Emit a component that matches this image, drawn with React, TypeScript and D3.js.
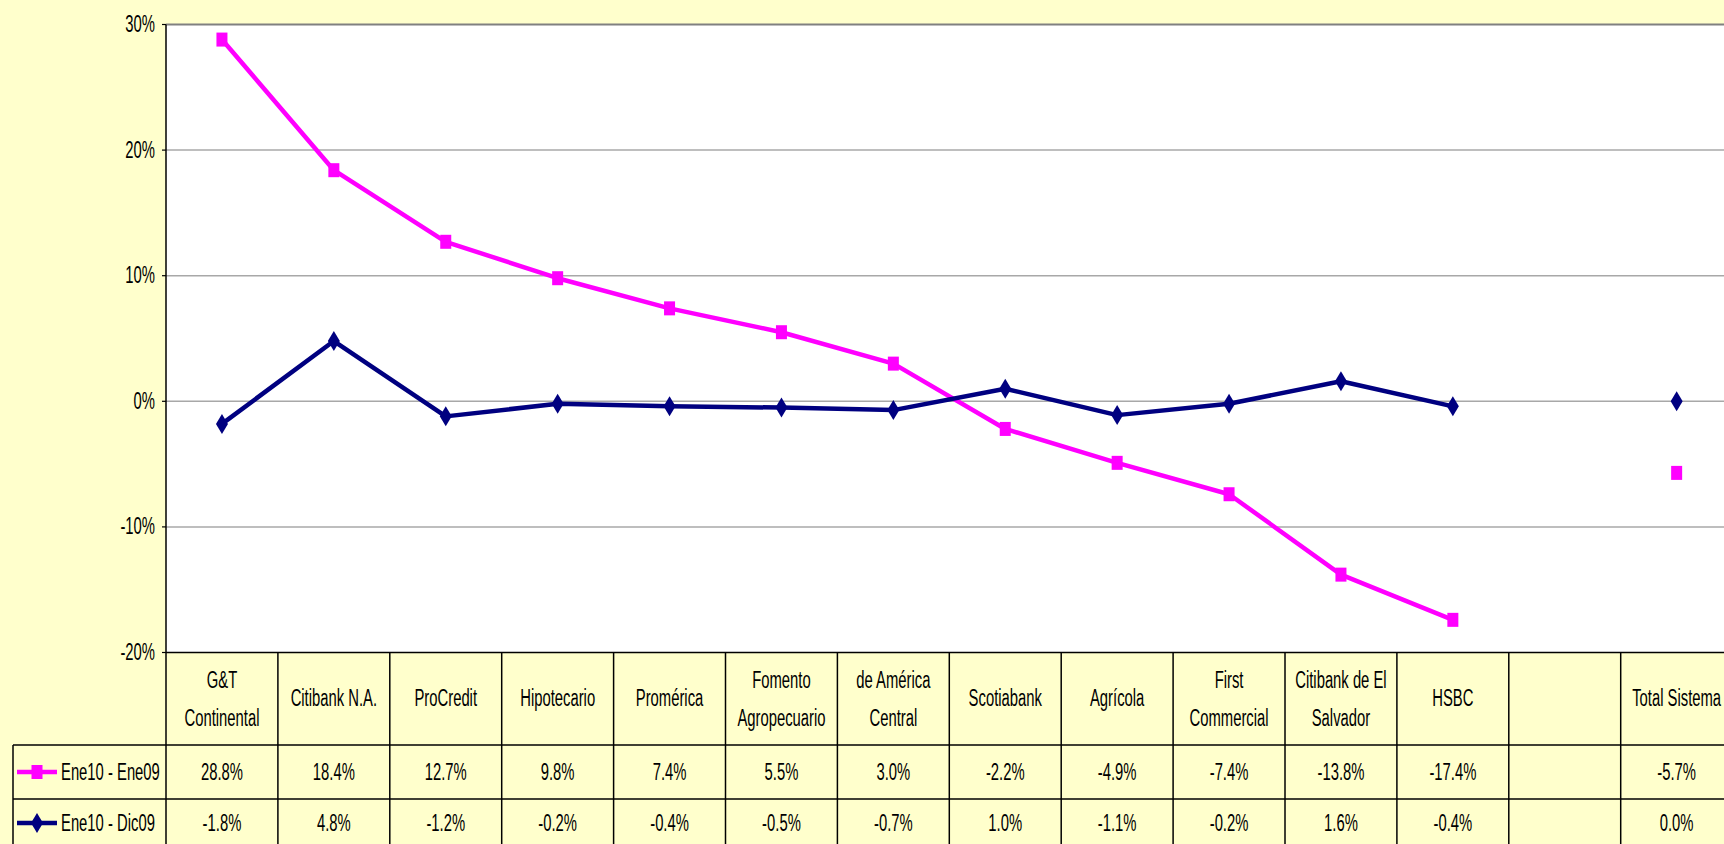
import React from "react";
import * as d3 from "d3";

const categories: string[][] = [
  ["G&T", "Continental"],
  ["Citibank N.A."],
  ["ProCredit"],
  ["Hipotecario"],
  ["Promérica"],
  ["Fomento", "Agropecuario"],
  ["de América", "Central"],
  ["Scotiabank"],
  ["Agrícola"],
  ["First", "Commercial"],
  ["Citibank de El", "Salvador"],
  ["HSBC"],
  [],
  ["Total Sistema"],
];
const seriesNames = ["Ene10 - Ene09", "Ene10 - Dic09"];
const ene09: (number | null)[] = [28.8, 18.4, 12.7, 9.8, 7.4, 5.5, 3.0, -2.2, -4.9, -7.4, -13.8, -17.4, null, -5.7];
const dic09: (number | null)[] = [-1.8, 4.8, -1.2, -0.2, -0.4, -0.5, -0.7, 1.0, -1.1, -0.2, 1.6, -0.4, null, 0.0];
const yTicks = [30, 20, 10, 0, -10, -20];

const W = 1724;
const H = 844;
const plotLeft = 166;
const colW = 111.9;
const plotTop = 24.5;
const plotBottom = 652.5;
const headerBottom = 745;
const row1Bottom = 799;
const legendLeft = 13;
const FONT = "'Liberation Sans', Arial, sans-serif";
const MAG = "#FF00FF";
const NAVY = "#000080";
const BG = "#FFFFCC";

const T = ({ x, y, children, anchor = "middle", size = 19 }: any) => (
  <text
    transform={`translate(${x},${y}) scale(0.78,1.3)`}
    textAnchor={anchor}
    dominantBaseline="central"
    fontFamily={FONT}
    fontSize={size}
    fill="#000"
  >
    {children}
  </text>
);

const Square = ({ x, y }: { x: number; y: number }) => (
  <rect x={x - 5.5} y={y - 7} width={11} height={14} fill={MAG} />
);
const Diamond = ({ x, y }: { x: number; y: number }) => (
  <path d={`M${x},${y - 10}L${x + 6},${y}L${x},${y + 10}L${x - 6},${y}Z`} fill={NAVY} />
);

const fmt = (v: number | null) => (v == null ? "" : `${v.toFixed(1)}%`);

export default function App() {
  const idx = categories.map((_, i) => String(i));
  const x = d3.scaleBand<string>().domain(idx).range([plotLeft, plotLeft + colW * categories.length]).padding(0);
  const y = d3.scaleLinear().domain([-20, 30]).range([plotBottom, plotTop]);
  const cx = (i: number) => (x(String(i)) as number) + x.bandwidth() / 2;

  const line = d3
    .line<number | null>()
    .defined((d) => d != null)
    .x((_, i) => cx(i))
    .y((d) => y(d as number));

  const boundaries = d3.range(categories.length + 1).map((i) => plotLeft + i * x.bandwidth());
  const r1 = (headerBottom + row1Bottom) / 2;
  const r2 = row1Bottom + 24;

  return (
    <svg
      width={W}
      height={H}
      style={{ position: "absolute", left: 0, top: 0, display: "block" }}
    >
      <rect x={0} y={0} width={W} height={H} fill={BG} />
      <rect x={plotLeft} y={plotTop} width={W - plotLeft} height={plotBottom - plotTop} fill="#fff" />
      {yTicks
        .filter((t) => t !== 30 && t !== -20)
        .map((t) => (
          <line key={t} x1={plotLeft} x2={W} y1={y(t)} y2={y(t)} stroke="#a8a8a8" strokeWidth={1.5} />
        ))}
      <line x1={plotLeft} x2={W} y1={plotTop} y2={plotTop} stroke="#808080" strokeWidth={2} />
      {yTicks.map((t) => (
        <g key={t}>
          <line x1={plotLeft - 4} x2={plotLeft} y1={y(t)} y2={y(t)} stroke="#000" strokeWidth={1.2} />
          <T x={155} y={y(t) - 1} anchor="end">{`${t}%`}</T>
        </g>
      ))}
      <path d={line(ene09) || ""} fill="none" stroke={MAG} strokeWidth={4.5} strokeLinejoin="round" />
      <path d={line(dic09) || ""} fill="none" stroke={NAVY} strokeWidth={4.5} strokeLinejoin="round" />
      {ene09.map((v, i) => (v == null ? null : <Square key={"s" + i} x={cx(i)} y={y(v)} />))}
      {dic09.map((v, i) => (v == null ? null : <Diamond key={"d" + i} x={cx(i)} y={y(v)} />))}

      <line x1={plotLeft} x2={W} y1={plotBottom} y2={plotBottom} stroke="#000" strokeWidth={1.5} />
      <line x1={legendLeft} x2={W} y1={headerBottom} y2={headerBottom} stroke="#000" strokeWidth={1.5} />
      <line x1={legendLeft} x2={W} y1={row1Bottom} y2={row1Bottom} stroke="#000" strokeWidth={1.5} />
      <line x1={legendLeft} x2={legendLeft} y1={headerBottom} y2={H} stroke="#000" strokeWidth={1.5} />
      <line x1={plotLeft} x2={plotLeft} y1={plotTop} y2={H} stroke="#000" strokeWidth={1.5} />
      {boundaries.slice(1).map((bx, i) => (
        <line key={"b" + i} x1={bx} x2={bx} y1={plotBottom} y2={H} stroke="#000" strokeWidth={1.5} />
      ))}
      {categories.map((c, i) => {
        const mid = (plotBottom + headerBottom) / 2;
        if (c.length === 1) return <T key={"c" + i} x={cx(i)} y={mid - 1}>{c[0]}</T>;
        return (
          <g key={"c" + i}>
            {c.map((ln, j) => (
              <T key={j} x={cx(i)} y={mid - 19 + j * 38}>{ln}</T>
            ))}
          </g>
        );
      })}
      {ene09.map((v, i) => (
        <T key={"v1" + i} x={cx(i)} y={r1}>{fmt(v)}</T>
      ))}
      {dic09.map((v, i) => (
        <T key={"v2" + i} x={cx(i)} y={r2}>{fmt(v)}</T>
      ))}
      <line x1={17} x2={57} y1={r1} y2={r1} stroke={MAG} strokeWidth={4.5} />
      <Square x={37} y={r1} />
      <T x={61} y={r1} anchor="start">{seriesNames[0]}</T>
      <line x1={17} x2={57} y1={r2} y2={r2} stroke={NAVY} strokeWidth={4.5} />
      <Diamond x={37} y={r2} />
      <T x={61} y={r2} anchor="start">{seriesNames[1]}</T>
    </svg>
  );
}
